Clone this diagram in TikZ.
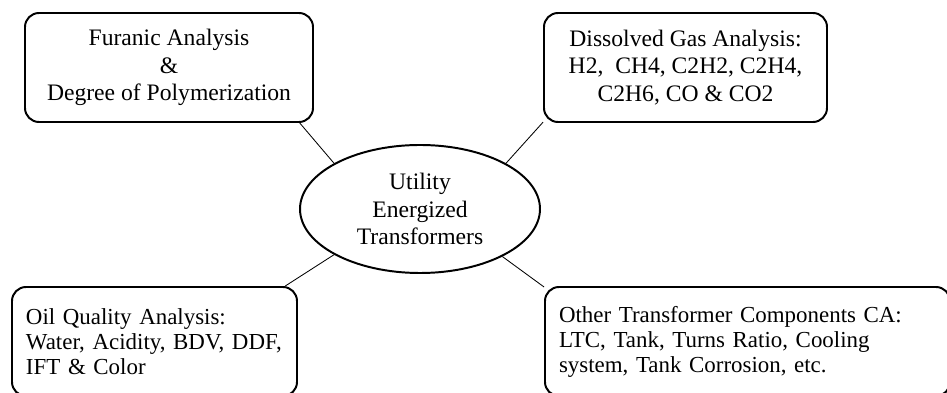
\documentclass[tikz,border=0pt]{standalone}
\usepackage{fontspec}
\setmainfont{Liberation Serif}
\usetikzlibrary{shapes.geometric}

\tikzset{
    topbox/.style={draw, line width=1.4pt, rounded corners=0.35cm, align=center,
        font=\fontsize{16.8}{19.6}\selectfont, minimum height=2.725cm},
    lowbox/.style={draw, line width=1.4pt, rounded corners=0.35cm, align=left,
        font=\fontsize{16.3}{17.8}\selectfont, minimum height=2.725cm, inner xsep=0.35cm},
    hub/.style={draw, ellipse, line width=1.4pt, inner sep=0pt, align=center,
        font=\fontsize{16.8}{19.6}\selectfont, minimum width=6cm, minimum height=3.2cm},
    link/.style={line width=0.6pt}
}

\begin{document}
\begin{tikzpicture}
                    \useasboundingbox (0, 0) rectangle (23.675, -9.825);
                    % Nodes:
                    \node[hub] (util) at (10.5, -5.225) {Utility\\Energized\\Transformers};
                    \node[topbox, minimum width=7.2cm] (fur) at (4.225, -1.6875) {Furanic Analysis\\\&\\Degree of Polymerization};
                    \node[topbox, minimum width=7.075cm] (dga) at (17.1375, -1.6875) {Dissolved Gas Analysis:\\H2,~ CH4, C2H2, C2H4,\\C2H6, CO \& CO2};
                    \node[lowbox, text width=6.425cm] (oil) at (3.8625, -8.5375) {Oil Quality Analysis:\\Water, Acidity, BDV, DDF,\\IFT \& Color};
                    \node[lowbox, text width=9.425cm] (oth) at (18.6875, -8.5375) {Other Transformer Components CA:\\LTC, Tank, Turns Ratio, Cooling\\system, Tank Corrosion, etc.};
                    % Connectors:
                    \draw[link] (util.152) -- (fur.-23);
                    \draw[link] (util.28) -- (dga.201);
                    \draw[link] (util.208) -- (oil.23);
                    \draw[link] (util.-30) -- (oth.165);
                \end{tikzpicture}
\end{document}
